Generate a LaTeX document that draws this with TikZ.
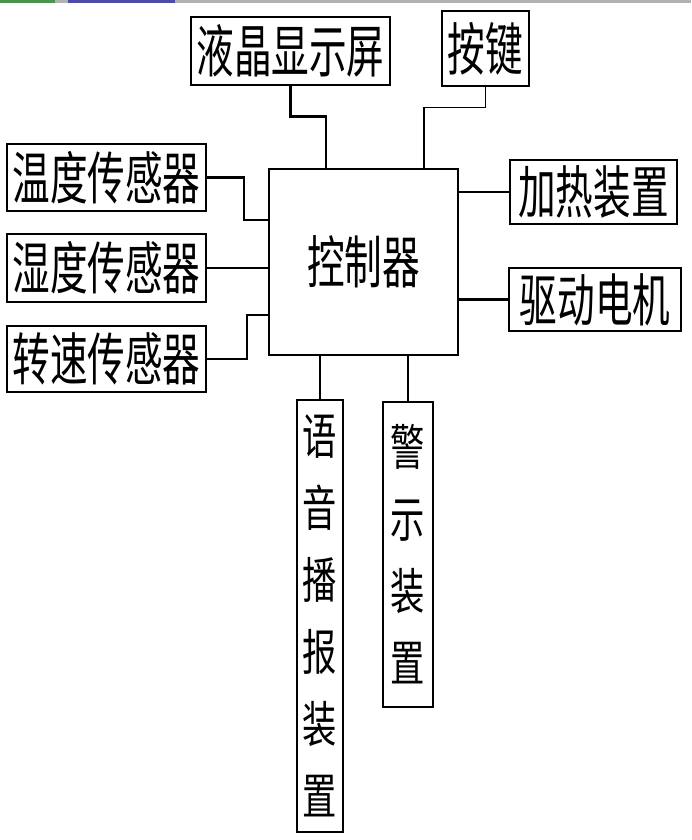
\documentclass[tikz,border=0pt]{standalone}
\usepackage{fontspec}
\newfontfamily\cjk[FakeStretch=0.66]{Noto Sans CJK SC}
\newfontfamily\cjkv[FakeStretch=0.70]{Noto Sans CJK SC}
\begin{document}
\begin{tikzpicture}[x=1pt,y=-1pt,
  box/.style={draw,line width=2.8pt,inner sep=0pt,font=\cjk\fontsize{57}{57}\selectfont},
  vbox/.style={draw,line width=2.8pt,inner sep=0pt,align=center,font=\cjkv\fontsize{49}{72}\selectfont},
  wire/.style={line width=2.5pt},
  thinwire/.style={line width=1.5pt}]
\useasboundingbox (0,0) rectangle (691,840);
\fill[gray!60] (0,0) rectangle (691,3);
\fill[green!40!black!70] (0,0) rectangle (55,3);
\fill[blue!50!black!70] (68,0) rectangle (175,3);

\node[box,minimum width=199pt,minimum height=68pt] (lcd) at (290.5,51) {液晶显示屏};
\node[box,minimum width=87pt,minimum height=75pt] (key) at (485.5,48.5) {按键};
\node[box,minimum width=199pt,minimum height=67pt] (temp) at (106.5,177.5) {温度传感器};
\node[box,minimum width=199pt,minimum height=68pt] (hum) at (106.5,268) {湿度传感器};
\node[box,minimum width=199pt,minimum height=66pt] (spd) at (106.5,359) {转速传感器};
\node[box,minimum width=167pt,minimum height=64pt] (heat) at (593.5,192) {加热装置};
\node[box,minimum width=172pt,minimum height=63pt] (motor) at (595,299.5) {驱动电机};
\node[box,minimum width=189pt,minimum height=186pt] (ctrl) at (363.5,262) {\raisebox{-7pt}{控制器}};
\node[vbox,minimum width=46pt,minimum height=432pt] (voice) at (320,616) {语\\音\\播\\报\\装\\置};
\node[vbox,minimum width=50pt,minimum height=305pt] (warn) at (408,554.5) {警\\示\\装\\置};

\coordinate (lcdx) at (326,0);
\coordinate (keyx) at (424,0);
\coordinate (t1) at (244,220);
\coordinate (s1) at (247,315);

\draw[wire] (lcd.south) -- ++(0,30) -| (ctrl.north -| lcdx);
\draw[thinwire] (key.south) -- ++(0,20) -| (ctrl.north -| keyx);
\draw[wire] (temp.east) -| (t1) -- (ctrl.west |- t1);
\draw[wire] (hum.east) -- (ctrl.west |- hum.east);
\draw[wire] (spd.east) -| (s1) -- (ctrl.west |- s1);
\draw[thinwire] (heat.west) -- (ctrl.east |- heat.west);
\draw[wire] (motor.west) -- (ctrl.east |- motor.west);
\draw[wire] (voice.north) -- (ctrl.south -| voice.north);
\draw[wire] (warn.north) -- (ctrl.south -| warn.north);
\end{tikzpicture}
\end{document}
